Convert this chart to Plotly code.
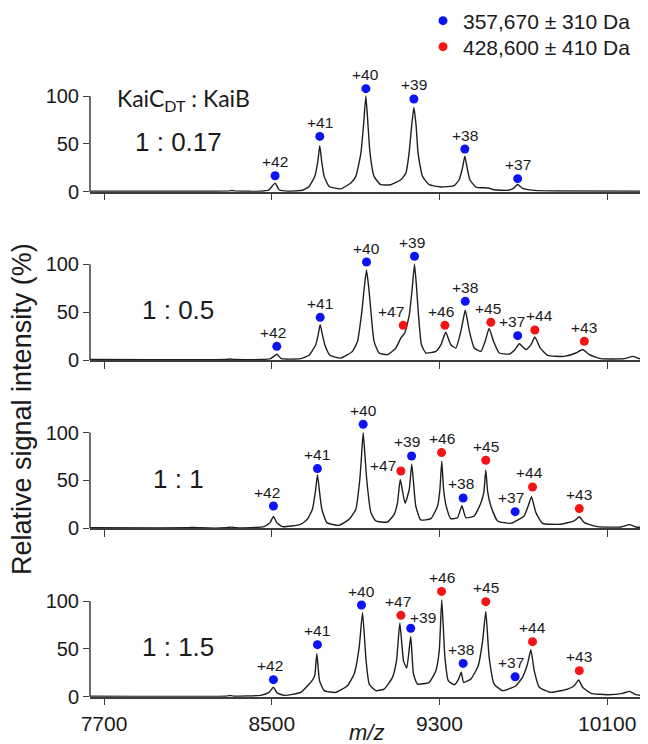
import plotly.graph_objects as go
from plotly.subplots import make_subplots

# ---------------- data ----------------
ratio_labels = ["1 : 0.17", "1 : 0.5", "1 : 1", "1 : 1.5"]
legend_names = ["357,670 ± 310 Da", "428,600 ± 410 Da"]
x_tick_vals = [7700, 8500, 9300, 10100]
x_tick_text = ["7700", "8500", "9300", "10100"]
y_tick_vals = [0, 50, 100]

# spectra: (m/z, relative intensity %)
spec1 = [(7633, 0.5), (8200, 0.5), (8290, 0.6), (8310, 1.2), (8330, 0.6), (8447, 0.5), (8487, 2), (8516, 9),
         (8535, 2), (8575, 0.5), (8646, 1.5), (8678, 5.5), (8705, 16), (8720, 32), (8729, 48), (8738, 32),
         (8750, 16), (8774, 5.5), (8829, 3), (8877, 9), (8901, 16), (8925, 40), (8938, 70), (8949, 100),
         (8959, 70), (8969, 40), (8988, 16), (9020, 7.3), (9068, 7.3), (9116, 12.5), (9140, 19.5), (9155, 40),
         (9167, 68), (9178, 88), (9189, 68), (9198, 40), (9219, 16), (9251, 7.3), (9307, 4.9), (9370, 6.3),
         (9394, 12.5), (9410, 25), (9421, 37), (9432, 25), (9445, 12.5), (9474, 4.9), (9533, 3.8), (9561, 2),
         (9625, 1.4), (9653, 3.5), (9673, 7.5), (9696, 3.5), (9752, 1.4), (9863, 0.7), (10290, 0.5)]

spec2 = [(7633, 0.5), (8280, 0.5), (8300, 1.0), (8320, 0.5), (8450, 0.5), (8495, 1.4), (8524, 6), (8546, 1.4),
         (8638, 1.4), (8678, 4.9), (8710, 16), (8722, 27), (8731, 37), (8741, 27), (8753, 16), (8778, 4.9),
         (8829, 2), (8885, 9), (8909, 19.5), (8930, 51), (8941, 75), (8952, 94), (8963, 75), (8973, 51),
         (8988, 19.5), (9012, 7.3), (9052, 5.6), (9092, 12.5), (9116, 23), (9135, 28.5), (9156, 47), (9170, 75),
         (9181, 100), (9191, 75), (9200, 47), (9214, 16), (9235, 7.3), (9283, 9), (9307, 16), (9330, 29),
         (9354, 16), (9378, 12.5), (9402, 30), (9413, 42), (9423, 52), (9433, 42), (9443, 30), (9466, 12.5),
         (9498, 9), (9518, 19.5), (9537, 33), (9558, 19.5), (9585, 7.3), (9633, 6.3), (9660, 10.8), (9681, 17),
         (9713, 10.8), (9737, 16), (9755, 24), (9781, 12.5), (9816, 4.9), (9895, 3.8), (9951, 7.3), (9983, 11),
         (10015, 5.6), (10070, 1.4), (10182, 1.4), (10222, 3.8), (10253, 1.4), (10290, 0.7)]

spec3 = [(7633, 0.5), (8100, 0.5), (8130, 1.0), (8160, 0.5), (8280, 0.5), (8306, 1.2), (8330, 0.5), (8463, 1.7),
         (8492, 5.9), (8508, 12.5), (8524, 5.9), (8551, 1.7), (8638, 4.2), (8670, 9.4), (8694, 19.9), (8708, 38),
         (8718, 56), (8728, 38), (8739, 19.9), (8763, 5.9), (8821, 3.1), (8869, 9.4), (8901, 19.9), (8920, 51),
         (8928, 75), (8936, 100), (8945, 75), (8953, 51), (8973, 16.4), (8996, 7.7), (9052, 6.6), (9084, 14.6),
         (9100, 26.8), (9113, 51), (9136, 26), (9156, 40.8), (9168, 67), (9187, 23.3), (9211, 8.7), (9259, 10.1),
         (9291, 23.3), (9302, 40), (9311, 70), (9320, 40), (9332, 23.3), (9354, 10.1), (9386, 11.1), (9407, 23.5),
         (9426, 11.1), (9466, 12.9), (9498, 26.8), (9512, 38), (9521, 61), (9530, 38), (9545, 23.3), (9577, 7.7),
         (9641, 5.2), (9665, 7.7), (9704, 12.9), (9723, 23.3), (9739, 33), (9760, 16.4), (9792, 5.2), (9879, 4.2),
         (9943, 7.7), (9967, 12), (9991, 5.9), (10054, 1.7), (10166, 1.4), (10206, 3.8), (10237, 1.4), (10290, 0.7)]

spec4 = [(7633, 0.5), (8280, 0.5), (8301, 1.2), (8320, 0.5), (8447, 1.4), (8487, 4.5), (8508, 10), (8524, 4.2),
         (8559, 1.4), (8638, 4.5), (8678, 13.2), (8694, 17.4), (8705, 22), (8715, 45), (8728, 16.7), (8750, 6.3),
         (8805, 4.5), (8861, 11.5), (8893, 23.7), (8917, 51.6), (8933, 88), (8950, 37.6), (8965, 13.2), (8996, 6.3),
         (9036, 8), (9076, 20.2), (9095, 37.6), (9111, 77), (9129, 36.9), (9144, 30), (9163, 63), (9176, 23.7),
         (9195, 13.2), (9251, 15), (9283, 27.2), (9299, 48), (9311, 101), (9326, 41.1), (9342, 16.7), (9370, 12.5),
         (9389, 17.4), (9404, 25.5), (9415, 15), (9450, 18.5), (9485, 32.4), (9506, 58.5), (9521, 89), (9537, 41.1),
         (9561, 13.2), (9601, 6.3), (9641, 9), (9665, 11.5), (9696, 20.2), (9720, 34.1), (9736, 49), (9752, 27.2),
         (9776, 9.8), (9832, 4.5), (9911, 8), (9943, 11.5), (9964, 17.5), (9983, 9.8), (10023, 3.5), (10102, 2.1),
         (10174, 3.5), (10206, 5.6), (10237, 2.1), (10290, 1)]

blue_charges = ["+42", "+41", "+40", "+39", "+38", "+37"]
red_charges = ["+47", "+46", "+45", "+44", "+43"]

p1_blue_mz = [8516, 8729, 8949, 9178, 9421, 9673]
p1_blue_y = [16.7, 57.8, 107.7, 96.9, 44.6, 13.6]
p2_blue_mz = [8524, 8731, 8952, 9181, 9423, 9673]
p2_blue_y = [14.3, 44.6, 102.4, 108.4, 61.3, 25.4]
p2_red_mz = [9127, 9326, 9545, 9755, 9991]
p2_red_y = [36.2, 36.2, 39.4, 31.4, 19.5]
p3_blue_mz = [8508, 8718, 8936, 9167, 9413, 9661]
p3_blue_y = [23.3, 62.4, 108.7, 75.6, 31.7, 17.4]
p3_red_mz = [9116, 9310, 9521, 9744, 9967]
p3_red_y = [59.9, 79.1, 71.1, 43.2, 20.6]
p4_blue_mz = [8508, 8718, 8928, 9163, 9413, 9661]
p4_blue_y = [17.8, 54.4, 95.8, 71.4, 34.8, 20.9]
p4_red_mz = [9116, 9310, 9521, 9744, 9967]
p4_red_y = [85, 110, 99.3, 57.5, 27.2]

# ---------------- styling ----------------
OFF = 8                      # page body margin of the browser
W, H = 648 - OFF, 744 - OFF  # figure size so that it fits in the window
BASE_PX = [191.7, 360.0, 528.3, 696.7]   # window pixel row of y=0 in each panel
PX_PER_UNIT = 0.957
Y_MAX = 140
X_RANGE = [7633, 10290]
BLUE = "#0a14f5"
RED = "#f51414"
LINE = "#1e1e1e"
AXIS = "#3c3c3c"
TXT = "#1a1a1a"
ARIAL = "Liberation Sans, Arial, sans-serif"


def fx(p):
    return (p - OFF) / W


def fy(p):
    return 1 - (p - OFF) / H


# label offsets (px) for charge-state labels: (panel, label) -> (dx, dy)
label_shift = {
    (2, "+42"): (-4, 14), (2, "+47"): (-12, 14), (2, "+39"): (-3, 14), (2, "+46"): (-4, 14),
    (2, "+45"): (-3, 14), (2, "+37"): (-6, 14), (2, "+44"): (5, 14),
    (3, "+42"): (-6, 14), (3, "+47"): (-18, 5), (3, "+39"): (-5, 14), (3, "+38"): (-2, 14),
    (3, "+37"): (-4, 14), (3, "+44"): (-3, 14),
    (4, "+42"): (-3, 14), (4, "+47"): (-3, 14), (4, "+39"): (12, 11), (4, "+38"): (-2, 14),
    (4, "+37"): (-4, 14),
}

fig = make_subplots(rows=4, cols=1)

spectra = [spec1, spec2, spec3, spec4]
blue_sets = [(p1_blue_mz, p1_blue_y), (p2_blue_mz, p2_blue_y), (p3_blue_mz, p3_blue_y), (p4_blue_mz, p4_blue_y)]
red_sets = [None, (p2_red_mz, p2_red_y), (p3_red_mz, p3_red_y), (p4_red_mz, p4_red_y)]

for i, spec in enumerate(spectra):
    mz, inten = zip(*spec)
    fig.add_trace(go.Scatter(x=list(mz), y=list(inten), mode="lines",
                             line=dict(color=LINE, width=1.4, shape="spline", smoothing=0.45),
                             showlegend=False, hoverinfo="skip"), row=i + 1, col=1)

blue_shown = False
red_shown = False
for i in range(4):
    r = i + 1
    bx, by = blue_sets[i]
    fig.add_trace(go.Scatter(x=bx, y=by, mode="markers", name=legend_names[0],
                             marker=dict(color=BLUE, size=9), cliponaxis=False,
                             showlegend=not blue_shown, legend="legend"), row=r, col=1)
    blue_shown = True
    if red_sets[i] is not None:
        rx, ry = red_sets[i]
        fig.add_trace(go.Scatter(x=rx, y=ry, mode="markers", name=legend_names[1],
                                 marker=dict(color=RED, size=9), cliponaxis=False,
                                 showlegend=not red_shown, legend="legend2"), row=r, col=1)
        red_shown = True

annotations = []
for i in range(4):
    r = i + 1
    xr = "x" if r == 1 else f"x{r}"
    yr = "y" if r == 1 else f"y{r}"
    groups = [(blue_charges, blue_sets[i])]
    if red_sets[i] is not None:
        groups.append((red_charges, red_sets[i]))
    for charges, (mzs, ys) in groups:
        for c, mx, my in zip(charges, mzs, ys):
            dx, dy = label_shift.get((r, c), (0, 14))
            annotations.append(dict(x=mx, y=my, xref=xr, yref=yr, text=c, showarrow=False,
                                    xshift=dx, yshift=dy, xanchor="center", yanchor="middle",
                                    font=dict(family=ARIAL, size=15.5, color=TXT)))
    annotations.append(dict(x=8053, y=52, xref=xr, yref=yr, text=ratio_labels[i], showarrow=False,
                            xanchor="center", yanchor="middle",
                            font=dict(family=ARIAL, size=26, color=TXT)))

annotations.append(dict(x=8079, y=96, xref="x", yref="y", text="KaiC<sub>DT</sub> : KaiB",
                        showarrow=False, xanchor="center", yanchor="middle",
                        font=dict(family="Lato, sans-serif", size=23, color=TXT)))
annotations.append(dict(x=fx(22), y=fy(409), xref="paper", yref="paper",
                        text="Relative signal intensity (%)", textangle=-90, showarrow=False,
                        xanchor="center", yanchor="middle",
                        font=dict(family=ARIAL, size=27, color=TXT)))
annotations.append(dict(x=fx(366), y=fy(732), xref="paper", yref="paper",
                        text="<i>m/z</i>", showarrow=False, xanchor="center", yanchor="middle",
                        font=dict(family=ARIAL, size=22, color=TXT)))

shapes = []
for i in range(4):
    r = i + 1
    b = BASE_PX[i]
    top = b - Y_MAX * PX_PER_UNIT
    fig.update_yaxes(domain=[fy(b), fy(top)], range=[0, Y_MAX], tickvals=y_tick_vals,
                     ticks="outside", ticklen=6, tickwidth=1.4, tickcolor=AXIS, showline=False,
                     showgrid=False, zeroline=False, tickfont=dict(family=ARIAL, size=20, color=TXT),
                     automargin=False, fixedrange=True, row=r, col=1)
    fig.update_xaxes(domain=[fx(90), min(fx(647), 1.0)], range=X_RANGE, tickvals=x_tick_vals,
                     ticktext=x_tick_text,
                     ticks="outside", ticklen=7, tickwidth=1.4, tickcolor=AXIS,
                     showline=True, linecolor=AXIS, linewidth=1.5, showgrid=False, zeroline=False,
                     showticklabels=(r == 4), tickfont=dict(family=ARIAL, size=21, color=TXT),
                     automargin=False, fixedrange=True, row=r, col=1)
    xr = "x domain" if r == 1 else f"x{r} domain"
    yr = "y" if r == 1 else f"y{r}"
    shapes.append(dict(type="line", xref=xr, yref=yr, x0=0, x1=0, y0=0, y1=100,
                       line=dict(color=AXIS, width=1.5)))

legend_style = dict(xanchor="left", yanchor="middle",
                    font=dict(family=ARIAL, size=21, color=TXT), bgcolor="rgba(0,0,0,0)",
                    itemsizing="trace", tracegroupgap=0)

fig.update_layout(
    width=W, height=H,
    margin=dict(l=0, r=0, t=0, b=0, autoexpand=False),
    paper_bgcolor="white", plot_bgcolor="white",
    annotations=annotations, shapes=shapes,
    legend=dict(x=fx(423), y=fy(21), **legend_style),
    legend2=dict(x=fx(423), y=fy(47), **legend_style),
)

fig.write_html("out.html")
